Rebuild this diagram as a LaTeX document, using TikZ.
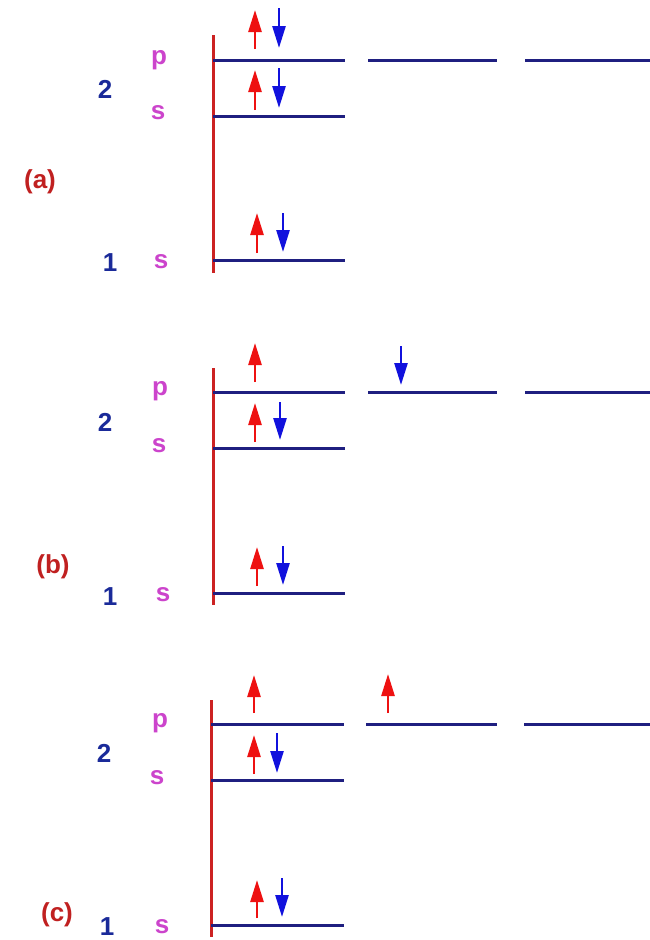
\documentclass[tikz,border=0pt]{standalone}
\usepackage{fontspec}
\setmainfont{Liberation Sans}
\usetikzlibrary{arrows.meta}
\definecolor{navy}{HTML}{1F1F80}
\definecolor{axisred}{HTML}{CC2222}
\definecolor{spinred}{HTML}{EE1111}
\definecolor{spinblue}{HTML}{1111DD}
\definecolor{numblue}{HTML}{1A2A99}
\definecolor{orbmag}{HTML}{CC44CC}
\definecolor{tagred}{HTML}{C02020}
\tikzset{
  level/.style={navy, line width=3pt},
  axis/.style={axisred, line width=3pt},
  spinup/.style={spinred, line width=2.6pt, -{Triangle[length=22pt,width=13pt]}},
  spindown/.style={spinblue, line width=2.6pt, -{Triangle[length=22pt,width=13pt]}},
  numlbl/.style={text=numblue, font=\fontsize{26}{26}\selectfont\bfseries, inner sep=0pt},
  orblbl/.style={text=orbmag, font=\fontsize{26}{26}\selectfont\bfseries, inner sep=0pt},
  taglbl/.style={text=tagred, font=\fontsize{26}{26}\selectfont\bfseries, inner sep=0pt},
}
\begin{document}
\begin{tikzpicture}[x=1pt,y=-1pt]
\useasboundingbox[fill=white] (0,0) rectangle (650,940);
% ---------- panel (a) ----------
\begin{scope}
  \coordinate (aT) at (213,35); \coordinate (aB) at (213,273);
  \draw[axis] (aT) -- (aB);
  \coordinate (ap1L) at (213,60); \coordinate (ap1R) at (345,60);
  \coordinate (ap2L) at (368,60); \coordinate (ap2R) at (497,60);
  \coordinate (ap3L) at (525,60); \coordinate (ap3R) at (650,60);
  \coordinate (as2L) at (213,116); \coordinate (as2R) at (345,116);
  \coordinate (as1L) at (213,260); \coordinate (as1R) at (345,260);
  \draw[level] (ap1L) -- (ap1R);
  \draw[level] (ap2L) -- (ap2R);
  \draw[level] (ap3L) -- (ap3R);
  \draw[level] (as2L) -- (as2R);
  \draw[level] (as1L) -- (as1R);
  % spins
  \coordinate (au1a) at (255,49); \coordinate (au1b) at (255,10);
  \coordinate (ad1a) at (279,8);  \coordinate (ad1b) at (279,48);
  \coordinate (au2a) at (255,110); \coordinate (au2b) at (255,70);
  \coordinate (ad2a) at (279,68);  \coordinate (ad2b) at (279,108);
  \coordinate (au3a) at (257,253); \coordinate (au3b) at (257,213);
  \coordinate (ad3a) at (283,213); \coordinate (ad3b) at (283,252);
  \draw[spinup] (au1a) -- (au1b);
  \draw[spindown] (ad1a) -- (ad1b);
  \draw[spinup] (au2a) -- (au2b);
  \draw[spindown] (ad2a) -- (ad2b);
  \draw[spinup] (au3a) -- (au3b);
  \draw[spindown] (ad3a) -- (ad3b);
  \node[orblbl] (apl) at (159,60) {p};
  \node[numlbl] (a2) at (105,89) {2};
  \node[orblbl] (as2) at (158,113) {s};
  \node[taglbl] (atag) at (40,182) {(a)};
  \node[numlbl] (a1) at (110,263) {1};
  \node[orblbl] (as1) at (161,262) {s};
\end{scope}
% ---------- panel (b) ----------
\begin{scope}
  \coordinate (bT) at (213,368); \coordinate (bB) at (213,605);
  \draw[axis] (bT) -- (bB);
  \coordinate (bp1L) at (213,392); \coordinate (bp1R) at (345,392);
  \coordinate (bp2L) at (368,392); \coordinate (bp2R) at (497,392);
  \coordinate (bp3L) at (525,392); \coordinate (bp3R) at (650,392);
  \coordinate (bs2L) at (213,448); \coordinate (bs2R) at (345,448);
  \coordinate (bs1L) at (213,593); \coordinate (bs1R) at (345,593);
  \draw[level] (bp1L) -- (bp1R);
  \draw[level] (bp2L) -- (bp2R);
  \draw[level] (bp3L) -- (bp3R);
  \draw[level] (bs2L) -- (bs2R);
  \draw[level] (bs1L) -- (bs1R);
  \coordinate (bu1a) at (255,382); \coordinate (bu1b) at (255,343);
  \coordinate (bd1a) at (401,346); \coordinate (bd1b) at (401,385);
  \coordinate (bu2a) at (255,442); \coordinate (bu2b) at (255,403);
  \coordinate (bd2a) at (280,402); \coordinate (bd2b) at (280,440);
  \coordinate (bu3a) at (257,586); \coordinate (bu3b) at (257,547);
  \coordinate (bd3a) at (283,546); \coordinate (bd3b) at (283,585);
  \draw[spinup] (bu1a) -- (bu1b);
  \draw[spindown] (bd1a) -- (bd1b);
  \draw[spinup] (bu2a) -- (bu2b);
  \draw[spindown] (bd2a) -- (bd2b);
  \draw[spinup] (bu3a) -- (bu3b);
  \draw[spindown] (bd3a) -- (bd3b);
  \node[orblbl] (bpl) at (160,391) {p};
  \node[numlbl] (b2) at (105,422) {2};
  \node[orblbl] (bs2) at (159,446) {s};
  \node[taglbl] (btag) at (53,567) {(b)};
  \node[numlbl] (b1) at (110,597) {1};
  \node[orblbl] (bs1) at (163,595) {s};
\end{scope}
% ---------- panel (c) ----------
\begin{scope}
  \coordinate (cT) at (211,700); \coordinate (cB) at (211,937);
  \draw[axis] (cT) -- (cB);
  \coordinate (cp1L) at (211,724); \coordinate (cp1R) at (344,724);
  \coordinate (cp2L) at (366,724); \coordinate (cp2R) at (497,724);
  \coordinate (cp3L) at (524,724); \coordinate (cp3R) at (650,724);
  \coordinate (cs2L) at (211,780); \coordinate (cs2R) at (344,780);
  \coordinate (cs1L) at (211,925); \coordinate (cs1R) at (344,925);
  \draw[level] (cp1L) -- (cp1R);
  \draw[level] (cp2L) -- (cp2R);
  \draw[level] (cp3L) -- (cp3R);
  \draw[level] (cs2L) -- (cs2R);
  \draw[level] (cs1L) -- (cs1R);
  \coordinate (cu1a) at (254,713); \coordinate (cu1b) at (254,675);
  \coordinate (cu4a) at (388,713); \coordinate (cu4b) at (388,674);
  \coordinate (cu2a) at (254,774); \coordinate (cu2b) at (254,735);
  \coordinate (cd2a) at (277,733); \coordinate (cd2b) at (277,773);
  \coordinate (cu3a) at (257,918); \coordinate (cu3b) at (257,880);
  \coordinate (cd3a) at (282,878); \coordinate (cd3b) at (282,917);
  \draw[spinup] (cu1a) -- (cu1b);
  \draw[spinup] (cu4a) -- (cu4b);
  \draw[spinup] (cu2a) -- (cu2b);
  \draw[spindown] (cd2a) -- (cd2b);
  \draw[spinup] (cu3a) -- (cu3b);
  \draw[spindown] (cd3a) -- (cd3b);
  \node[orblbl] (cpl) at (160,723) {p};
  \node[numlbl] (c2) at (104,753) {2};
  \node[orblbl] (cs2) at (157,778) {s};
  \node[taglbl] (ctag) at (57,915) {(c)};
  \node[numlbl] (c1) at (107,927) {1};
  \node[orblbl] (cs1) at (162,927) {s};
\end{scope}
\end{tikzpicture}
\end{document}
